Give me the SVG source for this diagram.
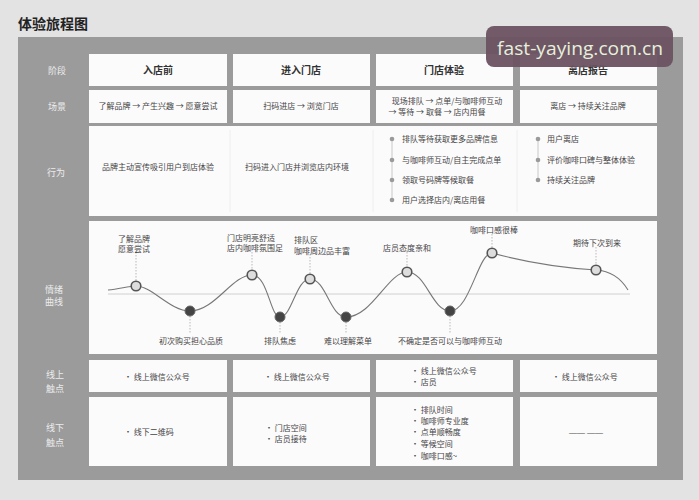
<svg xmlns="http://www.w3.org/2000/svg" width="699" height="500" viewBox="0 0 699 500">
<style>
text{font-family:"Noto Sans CJK SC","Noto Sans",sans-serif;fill:#444}
.cell{fill:#fcfbfc}
.lab{fill:#ececec;font-size:9px;text-anchor:middle}
.hd{font-size:10px;font-weight:bold;text-anchor:middle;fill:#333}
.t{font-size:8px}
.m{text-anchor:middle}
.lead{stroke:#aaa;stroke-width:0.8;stroke-dasharray:1.5 1.5;fill:none}
.hi{fill:#ddd;stroke:#555;stroke-width:1.6}
.lo{fill:#444;stroke:#666;stroke-width:1}
.dot{fill:#9a9a9a}
</style>
<rect x="0" y="0" width="699" height="500" fill="#e3e3e3"/>
<text x="18" y="29" style="font-size:14px;font-weight:bold;fill:#222">体验旅程图</text>
<rect x="18" y="37" width="665" height="443" fill="#9b9b9b"/>

<g id="row-labels">
<text class="lab" x="57" y="74">阶段</text>
<text class="lab" x="57" y="110">场景</text>
<text class="lab" x="56" y="176">行为</text>
<text class="lab" x="54" y="293">情绪</text>
<text class="lab" x="54" y="305">曲线</text>
<text class="lab" x="55" y="378">线上</text>
<text class="lab" x="55" y="392">触点</text>
<text class="lab" x="55" y="431">线下</text>
<text class="lab" x="55" y="446">触点</text>
</g>

<g id="stage">
<g id="stage-1"><rect class="cell" x="89" y="54" width="138" height="32"/><text class="hd" x="158" y="74">入店前</text></g>
<g id="stage-2"><rect class="cell" x="233" y="54" width="137" height="32"/><text class="hd" x="301" y="74">进入门店</text></g>
<g id="stage-3"><rect class="cell" x="376" y="54" width="137" height="32"/><text class="hd" x="444" y="74">门店体验</text></g>
<g id="stage-4"><rect class="cell" x="520" y="54" width="137" height="32"/><text class="hd" x="588" y="74">离店报告</text></g>
</g>

<g id="scene">
<g id="scene-1"><rect class="cell" x="89" y="90" width="138" height="33"/><text class="t m" x="158" y="109">了解品牌 → 产生兴趣 → 愿意尝试</text></g>
<g id="scene-2"><rect class="cell" x="233" y="90" width="137" height="33"/><text class="t m" x="301" y="109">扫码进店 → 浏览门店</text></g>
<g id="scene-3"><rect class="cell" x="376" y="90" width="137" height="33"/><text class="t m" x="447" y="104">现场排队 → 点单/与咖啡师互动</text><text class="t m" x="437" y="115">→ 等待 → 取餐 → 店内用餐</text></g>
<g id="scene-4"><rect class="cell" x="520" y="90" width="137" height="33"/><text class="t m" x="588" y="109">离店 → 持续关注品牌</text></g>
</g>

<g id="behavior">
<rect class="cell" x="89" y="126" width="568" height="90"/>
<line x1="230" y1="130" x2="230" y2="212" stroke="#eee" stroke-width="1"/>
<line x1="373" y1="130" x2="373" y2="212" stroke="#eee" stroke-width="1"/>
<line x1="517" y1="130" x2="517" y2="212" stroke="#eee" stroke-width="1"/>
<g id="behavior-1"><text class="t m" x="158" y="170">品牌主动宣传吸引用户到店体验</text></g>
<g id="behavior-2"><text class="t" x="245" y="170">扫码进入门店并浏览店内环境</text></g>
<g id="behavior-3">
<line x1="392" y1="139" x2="392" y2="200" stroke="#c8c8c8" stroke-width="1"/>
<circle class="dot" cx="392" cy="139" r="2.3"/><circle class="dot" cx="392" cy="160" r="2.3"/><circle class="dot" cx="392" cy="180" r="2.3"/><circle class="dot" cx="392" cy="200" r="2.3"/>
<text class="t" x="402" y="142">排队等待获取更多品牌信息</text>
<text class="t" x="402" y="163">与咖啡师互动/自主完成点单</text>
<text class="t" x="402" y="183">领取号码牌等候取餐</text>
<text class="t" x="402" y="203">用户选择店内/离店用餐</text>
</g>
<g id="behavior-4">
<line x1="538" y1="139" x2="538" y2="180" stroke="#c8c8c8" stroke-width="1"/>
<circle class="dot" cx="538" cy="139" r="2.3"/><circle class="dot" cx="538" cy="160" r="2.3"/><circle class="dot" cx="538" cy="180" r="2.3"/>
<text class="t" x="547" y="142">用户离店</text>
<text class="t" x="547" y="163">评价咖啡口碑与整体体验</text>
<text class="t" x="547" y="183">持续关注品牌</text>
</g>
</g>

<g id="emotion">
<rect class="cell" x="89" y="221" width="568" height="133"/>
<line x1="108" y1="294" x2="630" y2="294" stroke="#d0d0d0" stroke-width="1"/>
<g id="connectors">
<path d="M108,290 C120,289 128,286 136,286 C152,286 170,311 190,311 C215,311 232,275 252,275 C268,275 270,317 280,317 C292,317 296,279 310,279 C326,279 330,317 346,317 C372,317 388,272 407,272 C426,272 432,311 450,311 C470,311 478,253 492,253 C525,262 565,268 596,270 C612,271 622,280 628,290" fill="none" stroke="#777" stroke-width="1.1"/>
<path class="lead" d="M136,252V281 M252,252V270 M310,254V274 M407,252V267 M492,234V248 M596,247V265 M190,316V333 M280,322V333 M346,322V333 M450,316V333"/>
</g>
<g id="pt-a"><circle class="hi" cx="136" cy="286" r="4.8"/><text class="t m" x="134" y="242">了解品牌</text><text class="t m" x="134" y="252">愿意尝试</text></g>
<g id="pt-b"><circle class="lo" cx="190" cy="311" r="5"/><text class="t m" x="191" y="344">初次购买担心品质</text></g>
<g id="pt-c"><circle class="hi" cx="252" cy="275" r="4.8"/><text class="t" x="227" y="241">门店明亮舒适</text><text class="t" x="227" y="251">店内咖啡氛围足</text></g>
<g id="pt-d"><circle class="lo" cx="280" cy="317" r="5"/><text class="t m" x="280" y="344">排队焦虑</text></g>
<g id="pt-e"><circle class="hi" cx="310" cy="279" r="4.8"/><text class="t" x="294" y="243">排队区</text><text class="t" x="294" y="254">咖啡周边品丰富</text></g>
<g id="pt-f"><circle class="lo" cx="346" cy="317" r="5"/><text class="t m" x="348" y="344">难以理解菜单</text></g>
<g id="pt-g"><circle class="hi" cx="407" cy="272" r="4.8"/><text class="t m" x="407" y="251">店员态度亲和</text></g>
<g id="pt-h"><circle class="lo" cx="450" cy="311" r="5"/><text class="t m" x="450" y="344">不确定是否可以与咖啡师互动</text></g>
<g id="pt-i"><circle class="hi" cx="492" cy="253" r="4.8"/><text class="t m" x="494" y="233">咖啡口感很棒</text></g>
<g id="pt-j"><circle class="hi" cx="596" cy="270" r="4.8"/><text class="t m" x="597" y="246">期待下次到来</text></g>
</g>

<g id="online">
<g id="online-1"><rect class="cell" x="89" y="360" width="138" height="32"/><text class="t" x="124" y="380">· 线上微信公众号</text></g>
<g id="online-2"><rect class="cell" x="233" y="360" width="137" height="32"/><text class="t" x="264" y="380">· 线上微信公众号</text></g>
<g id="online-3"><rect class="cell" x="376" y="360" width="137" height="32"/><text class="t" x="411" y="374">· 线上微信公众号</text><text class="t" x="411" y="385">· 店员</text></g>
<g id="online-4"><rect class="cell" x="520" y="360" width="137" height="32"/><text class="t" x="552" y="380">· 线上微信公众号</text></g>
</g>

<g id="offline">
<g id="offline-1"><rect class="cell" x="89" y="397" width="138" height="69"/><text class="t" x="124" y="435">· 线下二维码</text></g>
<g id="offline-2"><rect class="cell" x="233" y="397" width="137" height="69"/><text class="t" x="265" y="431">· 门店空间</text><text class="t" x="265" y="442">· 店员接待</text></g>
<g id="offline-3"><rect class="cell" x="376" y="397" width="137" height="69"/>
<text class="t" x="411" y="413">· 排队时间</text><text class="t" x="411" y="424">· 咖啡师专业度</text><text class="t" x="411" y="435">· 点单顺畅度</text><text class="t" x="411" y="447">· 等候空间</text><text class="t" x="411" y="459">· 咖啡口感~</text></g>
<g id="offline-4"><rect class="cell" x="520" y="397" width="137" height="69"/><text class="t m" x="586" y="435" style="font-family:'Liberation Sans',sans-serif">—— ——</text></g>
</g>

<g id="watermark">
<rect x="486" y="26" width="187" height="41" rx="8" fill="#6b5262" fill-opacity="0.95"/>
<text x="497" y="55" textLength="166" lengthAdjust="spacingAndGlyphs" style="font-family:'Open Sans','Noto Sans',sans-serif;font-size:19px;fill:#e6f0dc">fast-yaying.com.cn</text>
</g>
</svg>
